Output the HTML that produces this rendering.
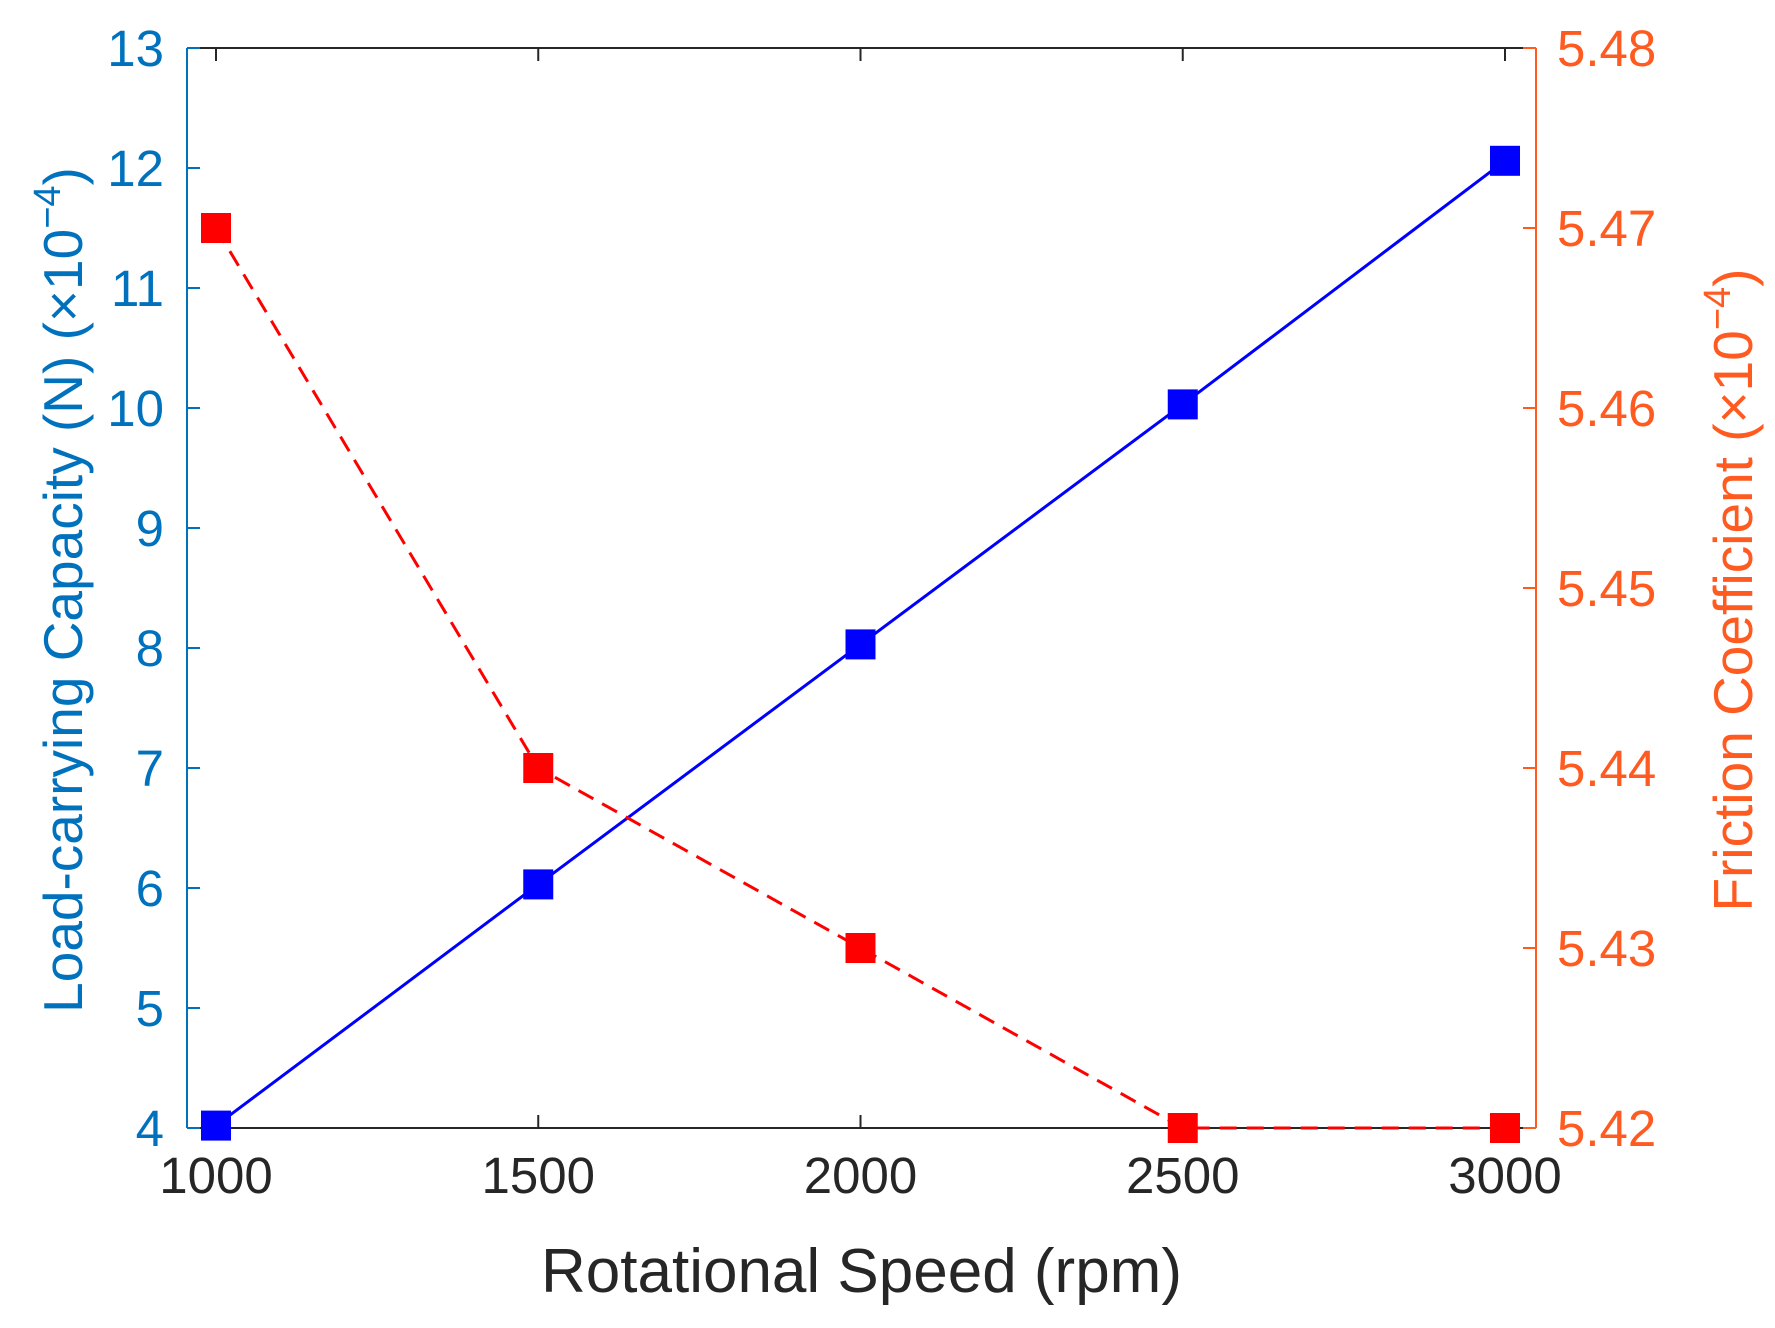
<!DOCTYPE html>
<html><head><meta charset="utf-8"><style>
html,body{margin:0;padding:0;background:#fff;}
svg{display:block;font-family:"Liberation Sans",Arial,sans-serif;}
</style></head><body>
<svg id="chart" width="1775" height="1328" viewBox="0 0 1775 1328" xmlns="http://www.w3.org/2000/svg">
<g id="g"></g>
</svg>
<script>
const categories = [1000, 1500, 2000, 2500, 3000];
const loadValues = [4.02, 6.03, 8.03, 10.03, 12.06];
const frictionValues = [5.47, 5.44, 5.43, 5.42, 5.42];
const xTicks = [1000, 1500, 2000, 2500, 3000];
const leftTicks = [4,5,6,7,8,9,10,11,12,13];
const rightTicks = ['5.42','5.43','5.44','5.45','5.46','5.47','5.48'];

const L=187, R=1536, T=48, B=1128;
const X0=216, X1=1505;
const sx = v => X0 + (v-1000)/(3000-1000)*(X1-X0);
const syL = v => B - (v-4)/(13-4)*(B-T);
const syR = v => B - (v-5.42)/(5.48-5.42)*(B-T);
const BLUEAX='#0072BD', ORANGE='#FF5A1F', NS='http://www.w3.org/2000/svg';
const g=document.getElementById('g');
function mk(tag, attrs, parent){const e=document.createElementNS(NS,tag);for(const k in attrs)e.setAttribute(k,attrs[k]);(parent||g).appendChild(e);return e;}

// frame
let e;
e=mk('line',{x1:L,y1:T,x2:R,y2:T,stroke:'#262626','stroke-width':2});


e=mk('line',{x1:L,y1:B,x2:R,y2:B,stroke:'#262626','stroke-width':2});


e=mk('line',{x1:L,y1:T,x2:L,y2:B,stroke:BLUEAX,'stroke-width':2});


e=mk('line',{x1:R,y1:T,x2:R,y2:B,stroke:ORANGE,'stroke-width':2});



xTicks.forEach(v=>{
  const x=sx(v);
  e=mk('line',{x1:x,y1:B,x2:x,y2:B-13,stroke:'#262626','stroke-width':2});
  
  
  e=mk('line',{x1:x,y1:T,x2:x,y2:T+13,stroke:'#262626','stroke-width':2});
  
  
  e=mk('text',{x:x,y:B+65,'text-anchor':'middle','font-size':51,fill:'#262626'});
  e.textContent=v;
  
  
});
leftTicks.forEach(v=>{
  const y=syL(v);
  e=mk('line',{x1:L,y1:y,x2:L+13,y2:y,stroke:BLUEAX,'stroke-width':2});
  
  
  e=mk('text',{x:164,y:y+18,'text-anchor':'end','font-size':51,fill:BLUEAX});
  e.textContent=v;
  
  
});
rightTicks.forEach(s=>{
  const y=syR(parseFloat(s));
  e=mk('line',{x1:R,y1:y,x2:R-13,y2:y,stroke:ORANGE,'stroke-width':2});
  
  
  e=mk('text',{x:1557,y:y+18,'text-anchor':'start','font-size':51,fill:ORANGE});
  e.textContent=s;
  
  
});

// series
const bp=categories.map((c,i)=>sx(c)+','+syL(loadValues[i])).join(' ');
e=mk('polyline',{points:bp,fill:'none',stroke:'#0000FF','stroke-width':3});


const rp=categories.map((c,i)=>sx(c)+','+syR(frictionValues[i])).join(' ');
e=mk('polyline',{points:rp,fill:'none',stroke:'#FF0000','stroke-width':3,'stroke-dasharray':'17,10'});


categories.forEach((c,i)=>{
  e=mk('rect',{x:sx(c)-15,y:syL(loadValues[i])-15,width:30,height:30,fill:'#0000FF'});
  
  
  e=mk('rect',{x:sx(c)-15,y:syR(frictionValues[i])-15,width:30,height:30,fill:'#FF0000'});
  
  
});

// titles
e=mk('text',{x:(L+R)/2,y:1292,'text-anchor':'middle','font-size':62,fill:'#262626'});
e.textContent='Rotational Speed (rpm)';


e=mk('text',{x:0,y:0,'text-anchor':'middle','font-size':55,fill:BLUEAX,transform:'translate(82,590) rotate(-90)'});
e.innerHTML='Load-carrying Capacity (N) (×10<tspan dy="-22" font-size="38">−4</tspan><tspan dy="22">)</tspan>';


e=mk('text',{x:0,y:0,'text-anchor':'middle','font-size':55,fill:ORANGE,transform:'translate(1752,590) rotate(-90)'});
e.innerHTML='Friction Coefficient (×10<tspan dy="-22" font-size="38">−4</tspan><tspan dy="22">)</tspan>';


</script>
</body></html>
